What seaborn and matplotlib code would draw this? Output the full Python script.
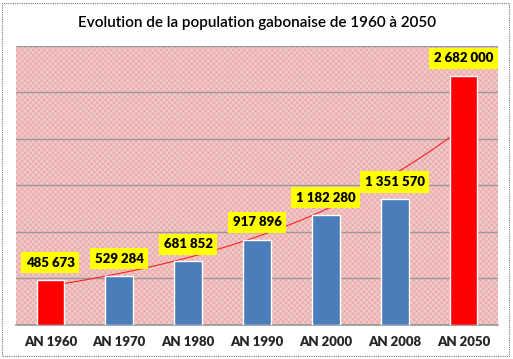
import numpy as np
import pandas as pd
import matplotlib
matplotlib.use("Agg")
import matplotlib.pyplot as plt
import seaborn as sns
from matplotlib.patches import Rectangle

categories = ["AN 1960", "AN 1970", "AN 1980", "AN 1990", "AN 2000", "AN 2008", "AN 2050"]
population = [485673, 529284, 681852, 917896, 1182280, 1351570, 2682000]
bar_colors = ["#FF0000", "#4A7DBA", "#4A7DBA", "#4A7DBA", "#4A7DBA", "#4A7DBA", "#FF0000"]
title = "Evolution de la population gabonaise de 1960 à 2050"

sns.set_theme(style="white")
plt.rcParams['font.family'] = ['Lato', 'DejaVu Sans']
plt.rcParams['hatch.color'] = '#E8A8A8'
plt.rcParams['hatch.linewidth'] = 0.5

df = pd.DataFrame({"cat": categories, "pop": population})

fig = plt.figure(figsize=(5.13, 3.59), dpi=100)
ax = fig.add_axes([0.031, 0.095, 0.940, 0.777])
ax.set_facecolor("#F2C8C8")
ax.add_patch(Rectangle((0, 0), 1, 1, transform=ax.transAxes, fill=False,
                       hatch="xxxxxx", ec="#E6A6A6", lw=0, zorder=0))

sns.barplot(data=df, x="cat", y="pop", hue="cat", palette=bar_colors, legend=False,
            width=0.4, ax=ax, saturation=1, zorder=3)

# exponential trendline
xs = np.arange(len(population))
b, a = np.polyfit(xs, np.log(population), 1)
xx = np.linspace(0, len(population) - 1, 200)
ax.plot(xx, np.exp(a + b * xx), color="#FF2020", lw=0.8, zorder=2)

ax.set_ylim(0, 3000000)
ax.set_xlim(-0.5, len(categories) - 0.5)
ax.set_yticks(np.arange(0, 3000001, 500000))
ax.set_yticklabels([])
ax.set_xticks(range(len(categories)), categories)
for lbl in ax.get_xticklabels():
    lbl.set_fontweight("heavy")
    lbl.set_fontsize(9.5)
ax.tick_params(axis="y", length=0)
ax.tick_params(axis="x", length=0, pad=8)
ax.grid(axis="y", color="#9A9A9A", lw=1, zorder=1)
ax.set_axisbelow(True)
ax.set_xlabel("")
ax.set_ylabel("")
for s in ["left", "right", "top"]:
    ax.spines[s].set_visible(False)
ax.spines["bottom"].set_color("#9A9A9A")

def fmt(v):
    return f"{v:,}".replace(",", " ")

for i, v in enumerate(population):
    ax.annotate(fmt(v), (i, v), xytext=(0, 8), textcoords="offset points",
                ha="center", va="bottom", fontsize=9.5, fontweight="heavy", color="black",
                bbox=dict(boxstyle="square,pad=0.35", fc="#FFFF00", ec="none"), zorder=5)

fig.text(0.5, 0.935, title, ha="center", va="center", fontsize=11, color="black",
         fontweight="semibold")

fig.patches.append(Rectangle((0.004, 0.008), 0.988, 0.984, transform=fig.transFigure,
                             fill=False, ec="#777777", lw=0.8, ls=(0, (1, 1))))

fig.savefig("out.png", dpi=100)
